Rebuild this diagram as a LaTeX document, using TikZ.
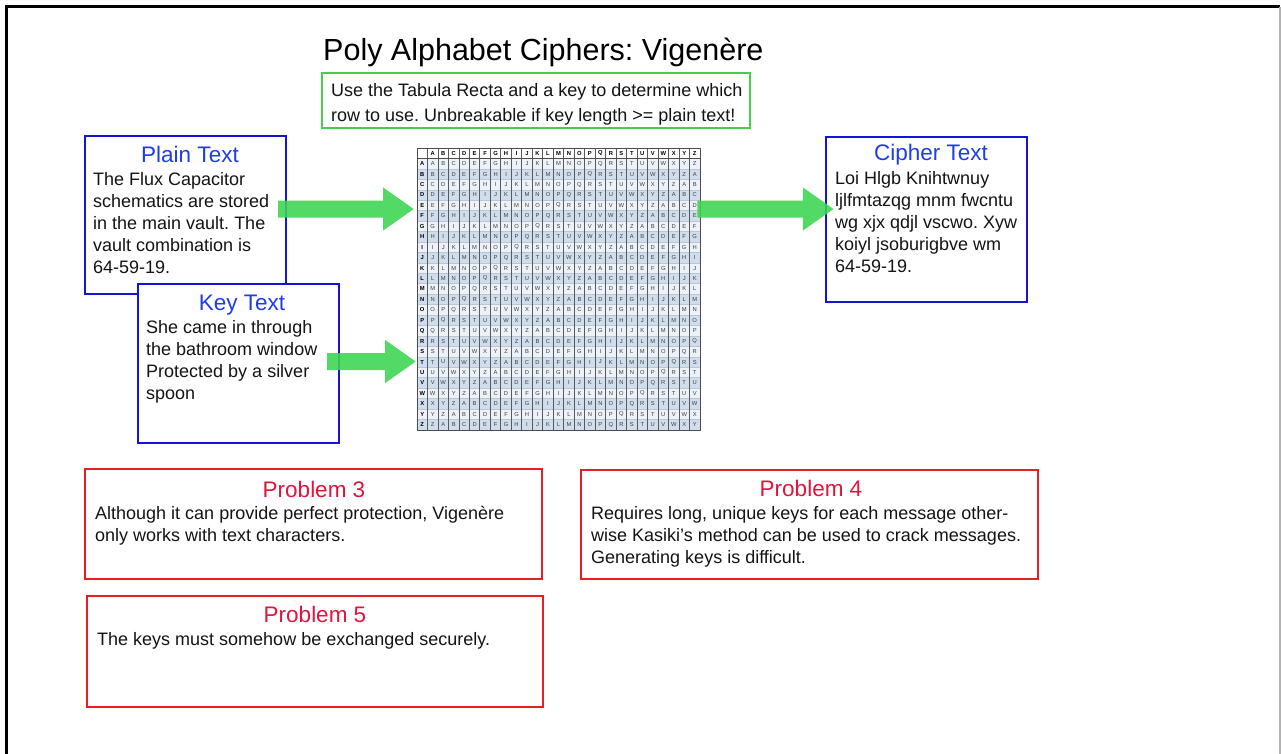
\documentclass[tikz,border=0pt]{standalone}
\usepackage{fontspec}
\setmainfont{Liberation Sans}
\usetikzlibrary{arrows.meta,calc}

\definecolor{boxblue}{RGB}{20,20,215}
\definecolor{headblue}{RGB}{30,60,235}
\definecolor{boxred}{RGB}{232,30,36}
\definecolor{headred}{RGB}{226,20,60}
\definecolor{boxgreen}{RGB}{70,205,75}
\definecolor{arrowgreen}{RGB}{60,212,80}
\definecolor{cellblue}{RGB}{208,221,236}
\definecolor{celllight}{RGB}{236,242,248}
\definecolor{gridline}{RGB}{185,198,212}
\definecolor{ink}{RGB}{20,20,20}

\begin{document}
\frenchspacing
\begin{tikzpicture}[x=1pt,y=-1pt,
  panel/.style={draw, line width=2.4pt, fill=white, inner sep=0pt},
  bluebox/.style={panel, draw=boxblue},
  redbox/.style={panel, draw=boxred},
  greenbox/.style={panel, draw=boxgreen},
  heading/.style={anchor=base, inner sep=0pt, font=\fontsize{22.5}{26}\selectfont},
  bluehead/.style={heading, text=headblue},
  redhead/.style={heading, text=headred},
  % multi-line texts are placed by the baseline of their last line
  body/.style={anchor=base west, inner sep=0pt, align=left, text=ink,
    font=\fontsize{18}{22}\selectfont},
  widebody/.style={body, font=\fontsize{18}{25}\selectfont},
  fatarrow/.style={draw=arrowgreen, line width=17pt,
    -{Triangle[length=31pt,width=41pt]}},
  cell/.style={inner sep=0pt, text=black!75, font=\fontsize{5.8}{6}\selectfont},
  labelcell/.style={cell, text=black, font=\fontsize{5.8}{6}\selectfont\bfseries}
]
\clip (0,0) rectangle (1281,753);
\fill[white] (0,0) rectangle (1281,753);

% slide frame
\draw[line width=2.5pt] (6.5,760) -- (6.5,6.5) -- (1280.2,6.5);
\draw[gray!60, line width=1.5pt] (1280.2,6.5) -- (1280.2,760);

% title
\node[anchor=base west, inner sep=0pt, text=black, font=\fontsize{30.5}{35}\selectfont]
  (title) at (323,60) {Poly Alphabet Ciphers: Vigenère};

% summary box
\node[greenbox, minimum width=428, minimum height=55] (summary) at (536,100.5) {};
\node[widebody] (summarytext) at (331,121.5)
  {Use the Tabula Recta and a key to determine which\\row to use. Unbreakable if key length >= plain text!};

% plain text
\node[bluebox, minimum width=201, minimum height=158] (plain) at (185.5,215) {};
\node[bluehead] (plainhead) at (190,162) {Plain Text};
\node[body] (plainbody) at (93,273)
  {The Flux Capacitor\\schematics are stored\\in the main vault. The\\vault combination is\\64-59-19.};

% key text
\node[bluebox, minimum width=201, minimum height=159] (key) at (238.5,363.5) {};
\node[bluehead] (keyhead) at (242,310) {Key Text};
\node[body] (keybody) at (146,399)
  {She came in through\\the bathroom window\\Protected by a silver\\spoon};

% cipher text
\node[bluebox, minimum width=201, minimum height=165] (cipher) at (926.5,219.5) {};
\node[bluehead] (cipherhead) at (931,160) {Cipher Text};
\node[body] (cipherbody) at (835,272)
  {Loi Hlgb Knihtwnuy\\ljlfmtazqg mnm fwcntu\\wg xjx qdjl vscwo. Xyw\\koiyl jsoburigbve wm\\64-59-19.};

% problems
\node[redbox, minimum width=457, minimum height=110] (p3) at (313.5,524) {};
\node[redhead] (p3head) at (314,497) {Problem 3};
\node[body] (p3body) at (95,541)
  {Although it can provide perfect protection, Vigenère\\only works with text characters.};

\node[redbox, minimum width=457, minimum height=109] (p4) at (809.5,524.5) {};
\node[redhead] (p4head) at (811,496) {Problem 4};
\node[body] (p4body) at (591,563)
  {Requires long, unique keys for each message other-\\wise Kasiki’s method can be used to crack messages.\\Generating keys is difficult.};

\node[redbox, minimum width=456, minimum height=111] (p5) at (315,651.5) {};
\node[redhead] (p5head) at (315,622) {Problem 5};
\node[body] (p5body) at (97,645)
  {The keys must somehow be exchanged securely.};

% tabula recta
\def\cw{10.48}
\def\ch{10.44}
\node[inner sep=0pt, minimum width=283, minimum height=282, anchor=north west]
  (tabula) at (417,148) {};
\foreach \r in {1,...,26}{
  \pgfmathtruncatemacro\odd{mod(\r,2)}
  \ifnum\odd=1
    \fill[celllight] (417,{148+\r*\ch}) rectangle (700,{148+(\r+1)*\ch});
  \else
    \fill[cellblue] (417,{148+\r*\ch}) rectangle (700,{148+(\r+1)*\ch});
  \fi
}
\foreach \r in {1,...,26}
  \draw[gridline, line width=0.5pt] (417,{148+\r*\ch}) -- (700,{148+\r*\ch});
\foreach \c in {1,...,26}
  \draw[black!65, line width=0.8pt] ({417+\c*\cw},148) -- ({417+\c*\cw},430);
\draw[black!70, line width=0.8pt] (417,148) rectangle (700,430);
\draw[black!70, line width=0.8pt] (417,{148+\ch}) -- (700,{148+\ch});

\foreach \c in {1,...,26}{
  \pgfmathtruncatemacro\k{64+\c}
  \node[labelcell] (th-\c) at ({417+(\c+0.5)*\cw},{148+0.5*\ch}) {\char\k};
  \node[labelcell] (tv-\c) at ({417+0.5*\cw},{148+(\c+0.5)*\ch}) {\char\k};
}
\foreach \r in {1,...,26}{
  \foreach \c in {1,...,26}{
    \pgfmathtruncatemacro\k{65+mod(\r+\c-2,26)}
    \node[cell] (t-\r-\c) at ({417+(\c+0.5)*\cw},{148+(\r+0.5)*\ch}) {\char\k};
  }
}

% flow arrows
\coordinate (plainout) at ($(plain.east)+(-9,-6)$);
\coordinate (keyout) at ($(key.east)+(-13,-2)$);
\coordinate (tabout) at ($(tabula.east |- plainout)+(-3,0)$);
\begin{scope}[transparency group, opacity=0.88]
  \draw[fatarrow] (plainout) -- ($(tabula.west |- plainout)+(-3,0)$);
  \draw[fatarrow] (keyout) -- ($(tabula.west |- keyout)+(-1,0)$);
  \draw[fatarrow] (tabout) -- ($(cipher.west |- plainout)+(9,0)$);
\end{scope}
\end{tikzpicture}
\end{document}
